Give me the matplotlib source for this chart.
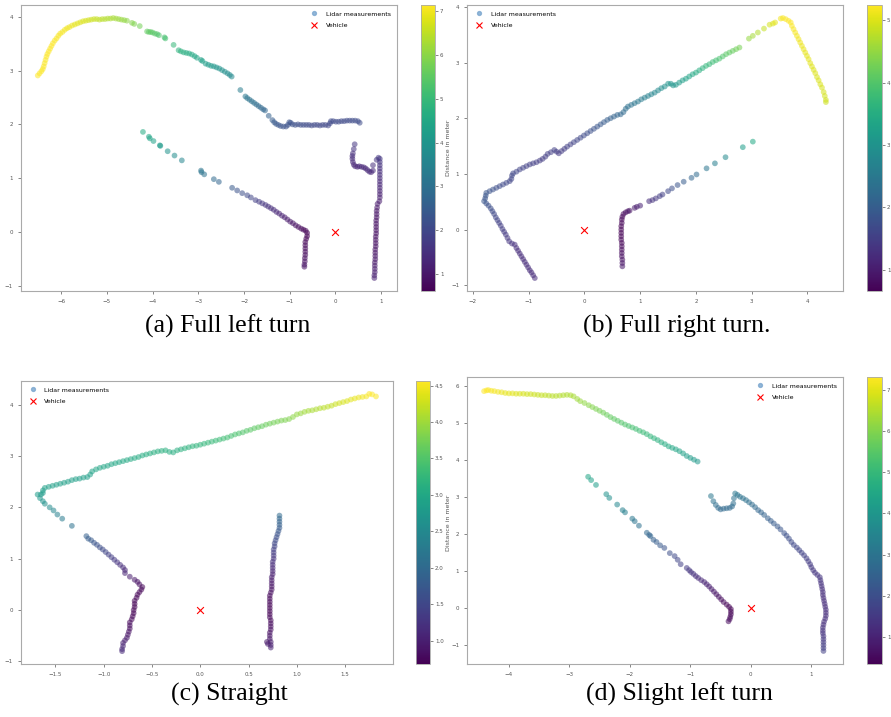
import numpy as np
import matplotlib
matplotlib.use("Agg")
import matplotlib.pyplot as plt
from matplotlib.lines import Line2D

# lidar points (x, y) in meters
left_turn_pts = [
    (-6.51, 2.91), (-6.47, 2.95), (-6.43, 2.99), (-6.40, 3.03), (-6.38, 3.08), (-6.36, 3.14), (-6.34, 3.20),
    (-6.32, 3.26), (-6.30, 3.31), (-6.27, 3.36), (-6.24, 3.41), (-6.21, 3.46), (-6.18, 3.51), (-6.14, 3.56),
    (-6.10, 3.60), (-6.06, 3.65), (-6.02, 3.69), (-5.97, 3.72), (-5.92, 3.76), (-5.87, 3.79), (-5.82, 3.81),
    (-5.76, 3.84), (-5.70, 3.86), (-5.64, 3.88), (-5.58, 3.90), (-5.52, 3.92), (-5.46, 3.93), (-5.40, 3.94),
    (-5.34, 3.95), (-5.28, 3.96), (-5.22, 3.96), (-5.16, 3.95), (-5.10, 3.96), (-5.04, 3.96), (-4.98, 3.97),
    (-4.92, 3.97), (-4.86, 3.98), (-4.80, 3.97), (-4.74, 3.96), (-4.68, 3.95), (-4.62, 3.94), (-4.56, 3.93),
    (-4.45, 3.89), (-4.40, 3.87), (-4.28, 3.83),
    (-4.12, 3.73), (-4.08, 3.72), (-4.04, 3.72), (-4.00, 3.71), (-3.95, 3.69), (-3.90, 3.68), (-3.86, 3.66),
    (-3.74, 3.62), (-3.72, 3.60), (-3.54, 3.48),
    (-3.43, 3.38), (-3.38, 3.36), (-3.32, 3.34), (-3.26, 3.33), (-3.20, 3.32), (-3.14, 3.30), (-3.08, 3.27),
    (-3.03, 3.24), (-2.94, 3.20), (-2.91, 3.18),
    (-2.84, 3.13), (-2.78, 3.11), (-2.72, 3.09), (-2.66, 3.08), (-2.60, 3.06), (-2.54, 3.04), (-2.48, 3.01),
    (-2.42, 2.98), (-2.36, 2.95), (-2.31, 2.92), (-2.27, 2.89), (-2.08, 2.64),
    (-1.97, 2.52), (-1.93, 2.49), (-1.88, 2.46), (-1.83, 2.43), (-1.78, 2.40), (-1.73, 2.37), (-1.68, 2.34),
    (-1.63, 2.31), (-1.58, 2.28), (-1.54, 2.26), (-1.46, 2.16),
    (-1.38, 2.08), (-1.34, 2.04), (-1.30, 2.01), (-1.25, 1.99), (-1.20, 1.97), (-1.14, 1.96), (-1.08, 1.96),
    (-1.04, 1.99), (-1.01, 2.04), (-0.98, 2.03), (-0.94, 2.00), (-0.88, 1.99), (-0.82, 2.00), (-0.76, 1.99),
    (-0.70, 1.99), (-0.64, 1.99), (-0.58, 1.99), (-0.52, 1.98), (-0.46, 1.99), (-0.40, 1.99), (-0.34, 1.98),
    (-0.28, 1.99), (-0.22, 1.99), (-0.16, 1.98), (-0.12, 2.02), (-0.10, 2.06), (-0.05, 2.06), (0.01, 2.05),
    (0.07, 2.05), (0.13, 2.06), (0.19, 2.06), (0.25, 2.07), (0.31, 2.07), (0.37, 2.07), (0.43, 2.07),
    (0.49, 2.06), (0.53, 2.03),
    (-4.21, 1.86), (-4.08, 1.77), (-4.06, 1.74), (-3.98, 1.69), (-3.84, 1.61), (-3.83, 1.60), (-3.67, 1.50),
    (-3.52, 1.42), (-3.36, 1.33), (-2.94, 1.14), (-2.93, 1.11), (-2.87, 1.07), (-2.66, 0.98), (-2.55, 0.93),
    (-2.26, 0.82), (-2.15, 0.77), (-2.04, 0.72), (-1.93, 0.68), (-1.85, 0.64), (-1.75, 0.59),
    (-1.67, 0.56), (-1.60, 0.53), (-1.53, 0.50), (-1.47, 0.47), (-1.41, 0.44), (-1.35, 0.41), (-1.29, 0.37),
    (-1.23, 0.34), (-1.17, 0.30), (-1.11, 0.27), (-1.05, 0.23), (-0.99, 0.19), (-0.93, 0.16), (-0.87, 0.12),
    (-0.81, 0.09), (-0.75, 0.06), (-0.70, 0.04), (-0.65, 0.02), (-0.62, -0.02), (-0.62, -0.08), (-0.64, -0.13),
    (-0.66, -0.19), (-0.66, -0.25), (-0.66, -0.31), (-0.66, -0.37), (-0.66, -0.43), (-0.67, -0.49),
    (-0.67, -0.55), (-0.68, -0.61), (-0.68, -0.65),
    (0.42, 1.63), (0.40, 1.54), (0.38, 1.46), (0.37, 1.41), (0.37, 1.36), (0.38, 1.30), (0.40, 1.25),
    (0.43, 1.22), (0.48, 1.21), (0.52, 1.22), (0.57, 1.21), (0.62, 1.20), (0.66, 1.18), (0.70, 1.15),
    (0.74, 1.12), (0.78, 1.11), (0.82, 1.14), (0.82, 1.24), (0.90, 1.34),
    (0.94, 1.38), (0.97, 1.36), (0.97, 1.30), (0.97, 1.24), (0.97, 1.18), (0.97, 1.12), (0.97, 1.06),
    (0.97, 1.00), (0.97, 0.94), (0.97, 0.88), (0.97, 0.82), (0.97, 0.76), (0.97, 0.70), (0.97, 0.64),
    (0.96, 0.57), (0.92, 0.52), (0.91, 0.45), (0.90, 0.39), (0.90, 0.33), (0.90, 0.27), (0.89, 0.21),
    (0.89, 0.15), (0.89, 0.09), (0.89, 0.03), (0.89, -0.03), (0.88, -0.09), (0.88, -0.15), (0.88, -0.21),
    (0.88, -0.27), (0.87, -0.33), (0.87, -0.39), (0.87, -0.45), (0.87, -0.51), (0.86, -0.57), (0.86, -0.63),
    (0.86, -0.69), (0.86, -0.75), (0.85, -0.81), (0.85, -0.86),
]

right_turn_pts = [
    (-0.89, -0.87), (-0.92, -0.82), (-0.95, -0.77), (-0.98, -0.73), (-1.01, -0.68), (-1.04, -0.63),
    (-1.07, -0.58), (-1.10, -0.53), (-1.13, -0.48), (-1.16, -0.43), (-1.19, -0.38), (-1.22, -0.33),
    (-1.25, -0.27), (-1.30, -0.25), (-1.35, -0.21), (-1.38, -0.15), (-1.41, -0.09), (-1.44, -0.04),
    (-1.47, 0.01), (-1.50, 0.07), (-1.53, 0.12), (-1.56, 0.17), (-1.59, 0.22), (-1.62, 0.28), (-1.65, 0.33),
    (-1.68, 0.38), (-1.72, 0.43), (-1.76, 0.47), (-1.80, 0.51), (-1.78, 0.56), (-1.77, 0.61), (-1.76, 0.66),
    (-1.70, 0.69), (-1.64, 0.72), (-1.58, 0.75), (-1.52, 0.78), (-1.46, 0.81), (-1.40, 0.84), (-1.34, 0.87),
    (-1.31, 0.91), (-1.30, 0.97), (-1.28, 1.01), (-1.22, 1.04), (-1.16, 1.08), (-1.10, 1.11), (-1.04, 1.14),
    (-0.98, 1.17), (-0.92, 1.19), (-0.86, 1.21), (-0.80, 1.24), (-0.75, 1.27), (-0.70, 1.31), (-0.66, 1.36),
    (-0.60, 1.39), (-0.54, 1.43), (-0.50, 1.40), (-0.46, 1.37), (-0.41, 1.41), (-0.36, 1.45), (-0.31, 1.49),
    (-0.25, 1.53), (-0.19, 1.57), (-0.13, 1.61), (-0.07, 1.65), (-0.01, 1.69), (0.05, 1.73), (0.11, 1.77),
    (0.17, 1.81), (0.23, 1.85), (0.29, 1.89), (0.35, 1.93), (0.41, 1.97), (0.47, 2.00), (0.53, 2.03),
    (0.59, 2.06), (0.65, 2.07), (0.70, 2.11), (0.74, 2.17), (0.78, 2.21), (0.84, 2.24), (0.90, 2.27),
    (0.96, 2.30), (1.02, 2.34), (1.08, 2.37), (1.14, 2.40), (1.20, 2.43), (1.26, 2.46), (1.32, 2.50),
    (1.38, 2.54), (1.44, 2.57), (1.50, 2.62), (1.55, 2.62), (1.59, 2.59), (1.64, 2.60), (1.70, 2.64),
    (1.76, 2.68), (1.82, 2.71), (1.88, 2.75), (1.94, 2.79), (2.00, 2.82), (2.06, 2.86), (2.12, 2.90),
    (2.18, 2.94), (2.24, 2.97), (2.30, 3.01), (2.36, 3.04), (2.42, 3.07), (2.48, 3.11), (2.54, 3.15),
    (2.60, 3.18), (2.66, 3.21), (2.72, 3.24), (2.78, 3.27),
    (2.95, 3.43), (3.02, 3.48), (3.11, 3.54), (3.22, 3.61), (3.32, 3.68), (3.38, 3.70), (3.42, 3.72),
    (3.52, 3.79), (3.56, 3.80), (3.61, 3.78), (3.66, 3.75), (3.70, 3.72), (3.72, 3.66), (3.75, 3.60),
    (3.78, 3.54), (3.81, 3.48), (3.84, 3.42), (3.87, 3.36), (3.90, 3.30), (3.93, 3.24), (3.96, 3.18),
    (3.99, 3.12), (4.02, 3.06), (4.05, 2.99), (4.08, 2.93), (4.11, 2.87), (4.14, 2.81), (4.17, 2.74),
    (4.20, 2.68), (4.23, 2.61), (4.26, 2.55), (4.29, 2.47), (4.31, 2.40), (4.33, 2.33), (4.33, 2.29),
    (0.68, -0.66), (0.68, -0.60), (0.68, -0.54), (0.67, -0.48), (0.67, -0.42), (0.67, -0.36), (0.67, -0.30),
    (0.67, -0.24), (0.66, -0.18), (0.66, -0.12), (0.66, -0.06), (0.66, 0.00), (0.66, 0.06), (0.67, 0.12),
    (0.67, 0.18), (0.68, 0.23), (0.70, 0.28), (0.74, 0.31), (0.78, 0.33),
    (0.81, 0.34), (0.90, 0.39), (0.94, 0.41), (1.00, 0.43), (1.16, 0.51), (1.22, 0.53), (1.28, 0.56),
    (1.35, 0.60), (1.40, 0.63), (1.50, 0.69), (1.57, 0.74), (1.67, 0.80), (1.78, 0.86), (1.92, 0.93),
    (2.01, 0.99), (2.19, 1.10), (2.34, 1.19), (2.53, 1.30), (2.84, 1.48), (3.02, 1.58),
]

straight_pts = [
    (-1.685, 2.25), (-1.65, 2.25), (-1.63, 2.28), (-1.63, 2.33), (-1.61, 2.38), (-1.57, 2.40), (-1.53, 2.42),
    (-1.49, 2.44), (-1.45, 2.46), (-1.41, 2.48), (-1.37, 2.50), (-1.33, 2.53), (-1.29, 2.55), (-1.25, 2.56),
    (-1.21, 2.58), (-1.17, 2.59), (-1.14, 2.64), (-1.12, 2.70), (-1.08, 2.74), (-1.04, 2.77), (-1.00, 2.79),
    (-0.96, 2.81), (-0.92, 2.84), (-0.88, 2.86), (-0.84, 2.88), (-0.80, 2.90), (-0.76, 2.92), (-0.72, 2.94),
    (-0.68, 2.96), (-0.64, 2.98), (-0.60, 3.01), (-0.56, 3.03), (-0.52, 3.05), (-0.48, 3.07), (-0.44, 3.09),
    (-0.40, 3.10), (-0.36, 3.11), (-0.32, 3.08), (-0.28, 3.07), (-0.24, 3.11), (-0.20, 3.13), (-0.16, 3.15),
    (-0.12, 3.17), (-0.08, 3.19), (-0.04, 3.20), (0.00, 3.22), (0.04, 3.24), (0.08, 3.26), (0.12, 3.28),
    (0.16, 3.30), (0.20, 3.32), (0.24, 3.34), (0.28, 3.36), (0.32, 3.39), (0.36, 3.42), (0.40, 3.44),
    (0.44, 3.46), (0.48, 3.49), (0.52, 3.51), (0.56, 3.54), (0.60, 3.56), (0.64, 3.58), (0.68, 3.61),
    (0.72, 3.63), (0.76, 3.65), (0.80, 3.67), (0.84, 3.69), (0.88, 3.70), (0.92, 3.72), (0.96, 3.76),
    (1.00, 3.81), (1.04, 3.83), (1.08, 3.86), (1.12, 3.88), (1.16, 3.89), (1.20, 3.91), (1.24, 3.93),
    (1.28, 3.94), (1.32, 3.96), (1.36, 3.98), (1.40, 4.01), (1.44, 4.03), (1.48, 4.05), (1.52, 4.07),
    (1.56, 4.10), (1.60, 4.12), (1.64, 4.14), (1.68, 4.15), (1.72, 4.16), (1.75, 4.21), (1.78, 4.20),
    (1.82, 4.16),
    (-1.66, 2.18), (-1.63, 2.12), (-1.61, 2.07), (-1.56, 2.00), (-1.52, 1.94), (-1.48, 1.86), (-1.43, 1.78),
    (-1.33, 1.64),
    (-1.18, 1.44), (-1.16, 1.39), (-1.13, 1.36), (-1.10, 1.31), (-1.07, 1.27), (-1.04, 1.22), (-1.01, 1.18),
    (-0.98, 1.13), (-0.95, 1.08), (-0.92, 1.03), (-0.89, 0.98), (-0.86, 0.93), (-0.83, 0.88), (-0.80, 0.83),
    (-0.78, 0.78), (-0.78, 0.72), (-0.73, 0.65), (-0.68, 0.59),
    (-0.65, 0.55), (-0.63, 0.50), (-0.60, 0.45), (-0.61, 0.40), (-0.63, 0.35), (-0.65, 0.30), (-0.66, 0.24),
    (-0.68, 0.18), (-0.68, 0.12), (-0.68, 0.06), (-0.69, 0.00), (-0.69, -0.06), (-0.70, -0.12),
    (-0.71, -0.18), (-0.73, -0.24), (-0.73, -0.30), (-0.73, -0.36), (-0.74, -0.42), (-0.75, -0.48),
    (-0.76, -0.54), (-0.78, -0.59), (-0.80, -0.64), (-0.80, -0.70), (-0.81, -0.76), (-0.81, -0.80),
    (0.82, 1.84), (0.82, 1.78), (0.82, 1.72), (0.82, 1.66), (0.82, 1.60), (0.81, 1.54), (0.80, 1.48),
    (0.79, 1.42), (0.78, 1.36), (0.77, 1.30), (0.77, 1.24), (0.76, 1.18), (0.76, 1.12), (0.76, 1.06),
    (0.76, 1.00), (0.75, 0.94), (0.75, 0.88), (0.75, 0.82), (0.75, 0.76), (0.75, 0.70), (0.74, 0.64),
    (0.74, 0.58), (0.74, 0.52), (0.74, 0.46), (0.74, 0.40), (0.73, 0.34), (0.72, 0.28), (0.72, 0.22),
    (0.72, 0.16), (0.72, 0.10), (0.72, 0.04), (0.72, -0.02), (0.72, -0.08), (0.72, -0.14), (0.73, -0.20),
    (0.73, -0.26), (0.73, -0.32), (0.73, -0.38), (0.72, -0.44), (0.72, -0.50), (0.72, -0.56), (0.73, -0.62),
    (0.73, -0.68), (0.73, -0.73), (0.70, -0.66), (0.69, -0.62),
]

slight_left_pts = [
    (-4.41, 5.85), (-4.37, 5.87), (-4.34, 5.88), (-4.29, 5.86), (-4.24, 5.85), (-4.18, 5.83), (-4.12, 5.82),
    (-4.06, 5.80), (-4.00, 5.79), (-3.94, 5.79), (-3.88, 5.78), (-3.82, 5.78), (-3.76, 5.78), (-3.70, 5.77),
    (-3.64, 5.77), (-3.58, 5.76), (-3.52, 5.75), (-3.46, 5.74), (-3.40, 5.74), (-3.34, 5.73), (-3.28, 5.72),
    (-3.22, 5.72), (-3.16, 5.73), (-3.10, 5.74), (-3.04, 5.75), (-2.98, 5.74), (-2.93, 5.71),
    (-2.87, 5.64), (-2.82, 5.58), (-2.75, 5.53), (-2.68, 5.47), (-2.62, 5.42), (-2.56, 5.37), (-2.50, 5.32),
    (-2.44, 5.27), (-2.38, 5.21), (-2.32, 5.15), (-2.26, 5.10), (-2.20, 5.05), (-2.14, 5.00), (-2.08, 4.95),
    (-2.02, 4.91), (-1.96, 4.87), (-1.90, 4.83), (-1.84, 4.78), (-1.78, 4.74), (-1.72, 4.69), (-1.66, 4.63),
    (-1.60, 4.58), (-1.54, 4.53), (-1.48, 4.47), (-1.42, 4.42), (-1.36, 4.36), (-1.30, 4.32), (-1.24, 4.28),
    (-1.18, 4.23), (-1.12, 4.17), (-1.06, 4.10), (-1.00, 4.05), (-0.94, 4.00), (-0.88, 3.95),
    (-2.69, 3.54), (-2.64, 3.45), (-2.56, 3.32), (-2.39, 3.07), (-2.34, 2.97), (-2.21, 2.79), (-2.12, 2.64),
    (-2.08, 2.58), (-1.96, 2.41), (-1.92, 2.34), (-1.85, 2.22), (-1.72, 2.03), (-1.68, 1.97), (-1.66, 1.94),
    (-1.61, 1.84), (-1.56, 1.78), (-1.50, 1.69), (-1.43, 1.62), (-1.34, 1.48), (-1.26, 1.40), (-1.21, 1.30),
    (-1.16, 1.18), (-1.06, 1.08),
    (-1.02, 1.02), (-0.99, 0.97), (-0.95, 0.92), (-0.91, 0.86), (-0.87, 0.81), (-0.82, 0.75), (-0.77, 0.70),
    (-0.73, 0.64), (-0.69, 0.58), (-0.65, 0.51), (-0.61, 0.44), (-0.57, 0.37), (-0.53, 0.30), (-0.49, 0.23),
    (-0.45, 0.16), (-0.40, 0.09), (-0.36, 0.03), (-0.33, -0.03), (-0.33, -0.10), (-0.33, -0.17),
    (-0.34, -0.24), (-0.35, -0.30), (-0.37, -0.36),
    (-0.66, 3.02), (-0.62, 2.88), (-0.58, 2.78), (-0.54, 2.70), (-0.50, 2.66), (-0.45, 2.68), (-0.40, 2.69),
    (-0.35, 2.70), (-0.31, 2.74), (-0.29, 2.82), (-0.28, 2.96),
    (-0.26, 3.09), (-0.22, 3.05), (-0.18, 3.00), (-0.13, 2.96), (-0.08, 2.91), (-0.03, 2.85), (0.02, 2.79),
    (0.07, 2.72), (0.12, 2.64), (0.17, 2.58), (0.22, 2.51), (0.28, 2.42), (0.33, 2.35), (0.38, 2.28),
    (0.44, 2.20), (0.49, 2.12), (0.55, 2.02), (0.59, 1.95), (0.63, 1.87), (0.67, 1.78), (0.71, 1.70),
    (0.76, 1.63), (0.80, 1.56), (0.84, 1.49), (0.88, 1.42), (0.92, 1.34), (0.95, 1.26), (0.98, 1.18),
    (1.00, 1.10), (1.03, 1.02), (1.06, 0.95), (1.10, 0.89), (1.14, 0.83), (1.15, 0.75), (1.16, 0.67),
    (1.17, 0.59), (1.18, 0.51), (1.19, 0.43), (1.19, 0.35), (1.20, 0.27), (1.21, 0.19), (1.22, 0.11),
    (1.23, 0.03), (1.24, -0.05), (1.24, -0.13), (1.24, -0.21), (1.23, -0.29), (1.21, -0.37), (1.20, -0.45),
    (1.19, -0.53), (1.19, -0.61), (1.19, -0.68), (1.20, -0.76), (1.20, -0.84), (1.20, -0.92), (1.20, -1.00),
    (1.20, -1.08), (1.20, -1.16),
]

captions = ["(a) Full left turn", "(b) Full right turn.", "(c) Straight", "(d) Slight left turn"]
legend_locs = ["upper right", "upper left", "upper left", "upper right"]

fig = plt.figure(figsize=(8.91, 7.17), dpi=100)

# [axes rect, colorbar rect, caption position] in figure fractions
layout = [
    ([0.0232, 0.5941, 0.4223, 0.3989], [0.4725, 0.5941, 0.0157, 0.3989], (0.256, 0.545)),
    ([0.5241, 0.5941, 0.4220, 0.3989], [0.9731, 0.5941, 0.0168, 0.3989], (0.759, 0.545)),
    ([0.0232, 0.0739, 0.4178, 0.3947], [0.4669, 0.0739, 0.0157, 0.3947], (0.257, 0.032)),
    ([0.5241, 0.0739, 0.4220, 0.4003], [0.9731, 0.0739, 0.0168, 0.4003], (0.763, 0.032)),
]

all_pts = [left_turn_pts, right_turn_pts, straight_pts, slight_left_pts]

for pts, (rect, crect, cap_xy), cap, loc in zip(all_pts, layout, captions, legend_locs):
    pts = np.array(pts)
    dist = np.hypot(pts[:, 0], pts[:, 1])
    ax = fig.add_axes(rect)
    sc = ax.scatter(pts[:, 0], pts[:, 1], c=dist, cmap="viridis", s=17, alpha=0.55, linewidths=0)
    ax.scatter([0], [0], marker="x", color="red", s=24, linewidths=0.8)
    for sp in ax.spines.values():
        sp.set_color("#aaaaaa")
        sp.set_linewidth(0.8)
    ax.tick_params(labelsize=4, colors="#555555", length=2, width=0.5)

    handles = [
        Line2D([], [], marker="o", linestyle="", color="#7aa6cf", markersize=2.8, alpha=0.8),
        Line2D([], [], marker="x", linestyle="", color="red", markersize=4, markeredgewidth=0.8),
    ]
    ax.legend(handles, ["Lidar measurements", "Vehicle"], loc=loc, frameon=False, fontsize=4.5,
              handletextpad=0.8, labelspacing=1.0, borderaxespad=0.6)

    cax = fig.add_axes(crect)
    cb = fig.colorbar(sc, cax=cax)
    cb.solids.set_alpha(1)
    cb.outline.set_edgecolor("#aaaaaa")
    cb.outline.set_linewidth(0.6)
    cb.ax.tick_params(labelsize=4, colors="#555555", length=2, width=0.5, pad=1.5)
    cb.set_label("Distance in meter", fontsize=4.5, color="#555555", labelpad=2)

    fig.text(cap_xy[0], cap_xy[1], cap, ha="center", va="center", fontsize=18.5,
             family="Liberation Serif")

fig.savefig("out.png", dpi=100)
